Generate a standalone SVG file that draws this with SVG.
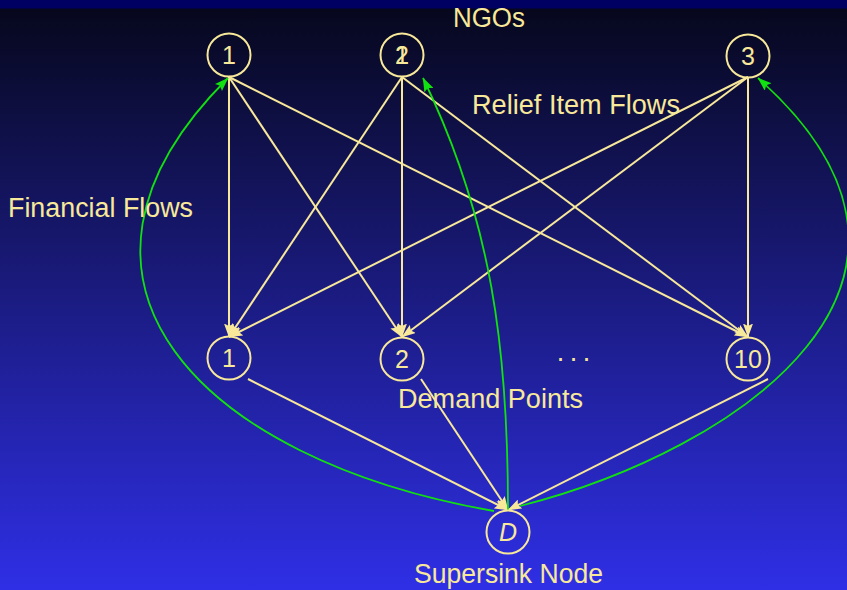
<svg xmlns="http://www.w3.org/2000/svg" width="847" height="590" viewBox="0 0 847 590">
<defs>
<linearGradient id="bg" x1="0" y1="0" x2="0" y2="1">
<stop offset="0" stop-color="#06071a"/>
<stop offset="1" stop-color="#2f2fe6"/>
</linearGradient>
<marker id="ay" markerUnits="userSpaceOnUse" viewBox="0 0 14 10" markerWidth="14" markerHeight="10" refX="13.5" refY="5" orient="auto">
<path d="M0,0 L14,5 L0,10 L2.5,5 Z" fill="#f8e89a"/>
</marker>
<marker id="ag" markerUnits="userSpaceOnUse" viewBox="0 0 14 10" markerWidth="14" markerHeight="10" refX="13.5" refY="5" orient="auto">
<path d="M0,0 L14,5 L0,10 L2.5,5 Z" fill="#11e011"/>
</marker>
</defs>
<style>
.lbl{font-family:"Liberation Sans",Arial,sans-serif;font-size:27px;fill:#f8e89a}
.num{font-family:"Liberation Sans",Arial,sans-serif;font-size:25px;fill:#f8e89a;text-anchor:middle}
.node circle{fill:none;stroke:#f8e89a;stroke-width:2}
.y{fill:none;stroke:#f8e89a;stroke-width:2;marker-end:url(#ay)}
.g{fill:none;stroke:#11e011;stroke-width:1.8;marker-end:url(#ag)}
</style>
<rect x="0" y="0" width="847" height="590" fill="url(#bg)"/>
<rect x="0" y="0" width="847" height="8.5" fill="#000063"/>

<g id="connectors">
<line class="y" x1="229" y1="77" x2="229" y2="337"/>
<line class="y" x1="229" y1="77" x2="402" y2="337"/>
<line class="y" x1="229" y1="77" x2="748" y2="337"/>
<line class="y" x1="402" y1="77" x2="229" y2="337"/>
<line class="y" x1="402" y1="77" x2="402" y2="337"/>
<line class="y" x1="402" y1="77" x2="748" y2="337"/>
<line class="y" x1="748" y1="77" x2="229" y2="337"/>
<line class="y" x1="748" y1="77" x2="402" y2="337"/>
<line class="y" x1="748" y1="77" x2="748" y2="337"/>
<line class="y" x1="248" y1="379" x2="508" y2="510"/>
<line class="y" x1="421" y1="379" x2="508" y2="510"/>
<line class="y" x1="768" y1="379" x2="508" y2="510"/>
<path class="g" d="M508,510 C508,350 492,220 423,78"/>
<path class="g" d="M494,511 C200,460 25,280 228,78"/>
<path class="g" d="M520,506 C740,450 985,280 758,78"/>
</g>

<g id="ngo1" class="node"><circle cx="229" cy="55" r="21.5"/><text class="num" x="229" y="64">1</text></g>
<g id="ngo2" class="node"><circle cx="402" cy="55" r="21.5"/><text class="num" x="402" y="64">1</text><text class="num" x="402" y="64">2</text></g>
<g id="ngo3" class="node"><circle cx="748" cy="56" r="21.5"/><text class="num" x="748" y="65">3</text></g>
<g id="dp1" class="node"><circle cx="229" cy="358" r="21.5"/><text class="num" x="229" y="367">1</text></g>
<g id="dp2" class="node"><circle cx="402" cy="359" r="21.5"/><text class="num" x="402" y="368">2</text></g>
<g id="dp10" class="node"><circle cx="748" cy="359" r="21.5"/><text class="num" x="748" y="368">10</text></g>
<g id="sink" class="node"><circle cx="508" cy="532" r="21.5"/><text class="num" x="508" y="541" font-style="italic">D</text></g>

<g id="labels">
<text class="lbl" x="453" y="27" textLength="72" lengthAdjust="spacingAndGlyphs">NGOs</text>
<text class="lbl" x="472" y="114" textLength="208" lengthAdjust="spacingAndGlyphs">Relief Item Flows</text>
<text class="lbl" x="8" y="217" textLength="185" lengthAdjust="spacingAndGlyphs">Financial Flows</text>
<text class="lbl" x="398" y="408" textLength="185" lengthAdjust="spacingAndGlyphs">Demand Points</text>
<text class="lbl" x="414" y="583" textLength="189" lengthAdjust="spacingAndGlyphs">Supersink Node</text>
<text class="lbl" x="556" y="367" textLength="35" lengthAdjust="spacing">· · ·</text>
</g>
</svg>
